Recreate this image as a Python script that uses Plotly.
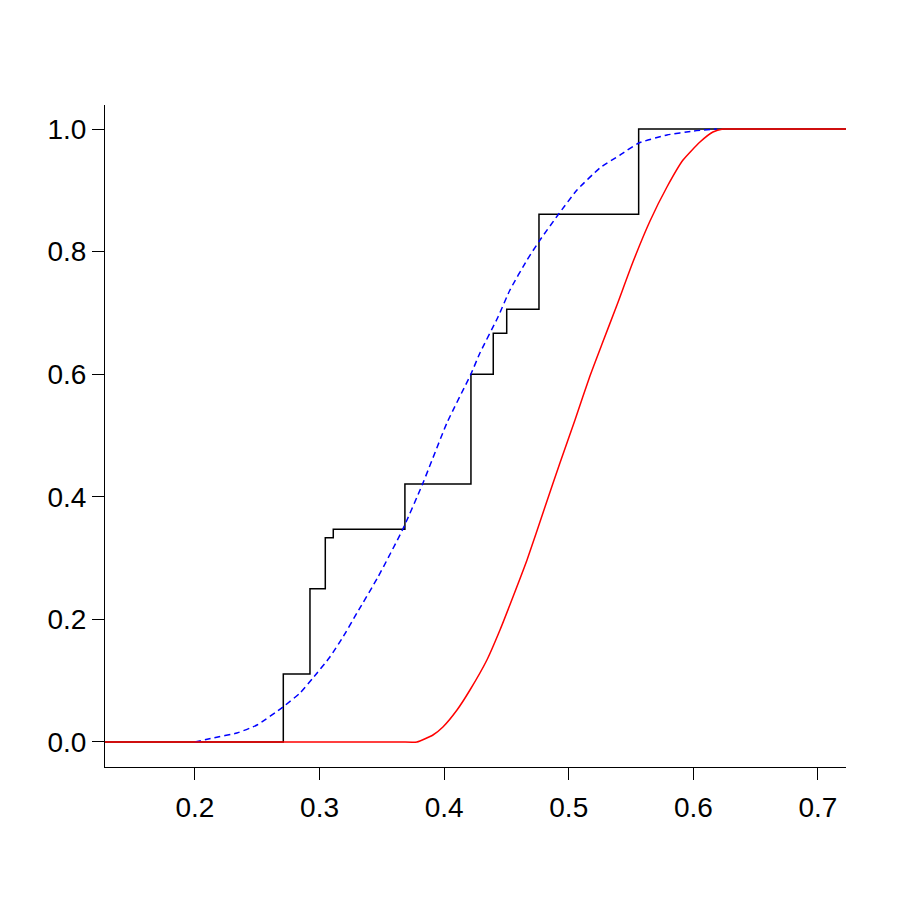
import plotly.graph_objects as go

# empirical step function (black)
step_x = [0.1278, 0.2709, 0.2923, 0.3046, 0.3110, 0.3685, 0.4215, 0.4394, 0.4502, 0.4761, 0.5561, 0.7225]
step_y = [0.0, 0.111, 0.250, 0.333, 0.347, 0.421, 0.600, 0.667, 0.706, 0.861, 1.0, 1.0]

# smooth dashed curve (blue)
blue_x = [0.2000, 0.2144, 0.2337, 0.2498, 0.2706, 0.2843, 0.2947, 0.3083, 0.3188, 0.3300,
          0.3469, 0.3669, 0.3830, 0.4022, 0.4215, 0.4287, 0.4432, 0.4528, 0.4665, 0.4769,
          0.4913, 0.5066, 0.5250, 0.5411, 0.5563, 0.5788, 0.5997, 0.6189]
blue_y = [0.0, 0.0065, 0.0147, 0.0277, 0.0571, 0.0799, 0.1044, 0.1387, 0.1713, 0.2104,
          0.2692, 0.3475, 0.4225, 0.5204, 0.6003, 0.6346, 0.6933, 0.7374, 0.7863, 0.8189,
          0.8597, 0.9005, 0.9364, 0.9576, 0.9772, 0.9902, 0.9967, 1.0]

# solid curve (red)
red_x = [0.1278, 0.3000, 0.3650, 0.3782, 0.3910, 0.3990, 0.4103, 0.4207, 0.4343, 0.4448,
         0.4552, 0.4665, 0.4809, 0.4929, 0.5050, 0.5170, 0.5267, 0.5387, 0.5515, 0.5652,
         0.5788, 0.5917, 0.6053, 0.6157, 0.6238, 0.6350, 0.6600, 0.7225]
red_y = [0.0, 0.0, 0.0, 0.0, 0.0114, 0.0245, 0.0522, 0.0848, 0.1338, 0.1827,
         0.2365, 0.2969, 0.3834, 0.4551, 0.5253, 0.5971, 0.6493, 0.7129, 0.7830, 0.8499,
         0.9054, 0.9494, 0.9788, 0.9951, 1.0, 1.0, 1.0, 1.0]

x_ticks = [0.2, 0.3, 0.4, 0.5, 0.6, 0.7]
y_ticks = [0.0, 0.2, 0.4, 0.6, 0.8, 1.0]

fig = go.Figure()
fig.add_trace(go.Scatter(x=step_x, y=step_y, mode="lines", line_shape="hv",
                         line=dict(color="black", width=1.5)))
fig.add_trace(go.Scatter(x=blue_x, y=blue_y, mode="lines", line_shape="spline",
                         line=dict(color="blue", width=1.5, dash="6px,4px", smoothing=0.5)))
fig.add_trace(go.Scatter(x=red_x, y=red_y, mode="lines", line_shape="spline",
                         line=dict(color="red", width=1.5, smoothing=0.5)))

axis_style = dict(showgrid=False, zeroline=False, showline=True, linecolor="black",
                  linewidth=1, ticks="outside", ticklen=12, tickcolor="black", tickwidth=1)

# page body adds an 8px offset, so margins are trimmed to compensate
fig.update_layout(
    width=900, height=898,
    margin=dict(l=97, r=62, t=97, b=139),
    plot_bgcolor="white", paper_bgcolor="white",
    showlegend=False,
    font=dict(family="Liberation Sans, Arial, sans-serif", size=28, color="black"),
    xaxis=dict(range=[0.1278, 0.7225], tickvals=x_ticks, tickformat=".1f",
               ticklabelstandoff=3, **axis_style),
    yaxis=dict(range=[-0.0408, 1.0392], tickvals=y_ticks, tickformat=".1f", **axis_style),
)

fig.write_html("out.html")
